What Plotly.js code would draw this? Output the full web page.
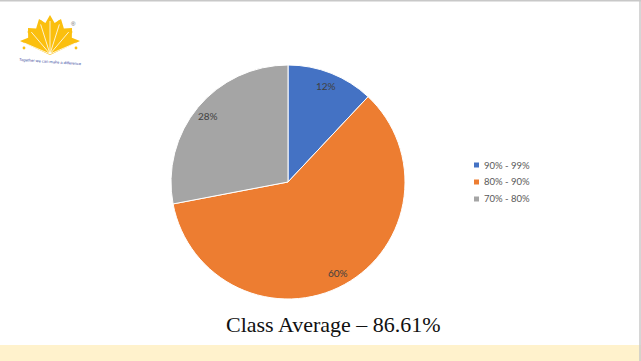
<!DOCTYPE html>
<html><head><meta charset="utf-8">
<script src="https://cdn.plot.ly/plotly-3.0.1.min.js"></script>
<style>html,body{margin:0;padding:0;background:#fff;}#chart{width:641px;height:361px;}</style>
</head><body><div id="chart"></div>
<script>
// ---- data ----
const categories = ['90% - 99%', '80% - 90%', '70% - 80%'];
const studentCounts = [3, 15, 7];
const sliceColors = ['#4472C4', '#ED7D31', '#A5A5A5'];
const chartTitle = 'Class Average \u2013 86.61%';
const logoTagline = 'Together we can make a difference';

// ---- geometry helpers (page pixels -> paper) ----
const W = 641, H = 361;
const px = x => x / W;
const py = y => 1 - y / H;
const pieCx = 288, pieCy = 182, pieR = 117;

const annotations = [];
const shapes = [];

// slice labels at "inside end" position, computed from the data
const total = studentCounts.reduce((a, b) => a + b, 0);
let cum = 0;
studentCounts.forEach((v, i) => {
  const mid = (cum + v / 2) / total * 2 * Math.PI;
  cum += v;
  const rr = pieR * 0.885;
  annotations.push({
    xref: 'paper', yref: 'paper',
    x: px(pieCx + rr * Math.sin(mid)), y: py(pieCy - rr * Math.cos(mid)),
    text: Math.round(v / total * 100) + '%', showarrow: false,
    xanchor: 'center', yanchor: 'middle',
    font: {family: 'Lato, Noto Sans, sans-serif', size: 10, color: '#404040'}
  });
});

// legend (small squares like the reference)
const legendY = [165, 182, 199];
categories.forEach((c, i) => {
  shapes.push({type: 'rect', xref: 'paper', yref: 'paper',
    x0: px(474), x1: px(479), y0: py(legendY[i] + 2.5), y1: py(legendY[i] - 2.5),
    fillcolor: sliceColors[i], line: {width: 0}});
  annotations.push({xref: 'paper', yref: 'paper', x: px(482), y: py(legendY[i]),
    text: c, showarrow: false, xanchor: 'left', yanchor: 'middle',
    font: {family: 'Lato, Noto Sans, sans-serif', size: 9.5, color: '#595959'}});
});

// title below the pie
annotations.push({xref: 'paper', yref: 'paper', x: px(333), y: py(324),
  text: chartTitle, showarrow: false, xanchor: 'center', yanchor: 'middle',
  font: {family: 'Liberation Serif, DejaVu Serif, serif', size: 22, color: '#111111'}});

// frame: top and right borders, yellow footer band
shapes.push({type: 'rect', xref: 'paper', yref: 'paper', x0: 0, x1: 1, y0: 0, y1: py(345),
  fillcolor: '#FFF2CC', line: {width: 0}, layer: 'below'});
shapes.push({type: 'line', xref: 'paper', yref: 'paper', x0: 0, x1: 1, y0: py(0.75), y1: py(0.75),
  line: {color: '#C8C8C8', width: 1.5}});
shapes.push({type: 'line', xref: 'paper', yref: 'paper', x0: px(640), x1: px(640), y0: 0, y1: 1,
  line: {color: '#C8C8C8', width: 1.5}});

// logo (decoration)
const base = [50, 55];
const tips = [[20, 41], [28, 28], [39, 19], [50, 15], [61, 19], [72, 28], [80, 41]];
let d = 'M' + px(base[0]) + ',' + py(base[1]);
tips.forEach((t, i) => {
  if (i > 0) {
    const p = tips[i - 1];
    const mx = (p[0] + t[0]) / 2, my = (p[1] + t[1]) / 2;
    const nx = base[0] + (mx - base[0]) * 0.84, ny = base[1] + (my - base[1]) * 0.84;
    d += ' L' + px(nx) + ',' + py(ny);
  }
  d += ' L' + px(t[0]) + ',' + py(t[1]);
});
d += ' Z';
shapes.push({type: 'path', xref: 'paper', yref: 'paper', path: d,
  fillcolor: '#FBBF0E', line: {width: 0}});
tips.forEach(t => {
  shapes.push({type: 'line', xref: 'paper', yref: 'paper',
    x0: px(base[0]), y0: py(base[1] - 1),
    x1: px(base[0] + (t[0] - base[0]) * 0.85), y1: py(base[1] + (t[1] - base[1]) * 0.85),
    line: {color: '#FFFFFF', width: 0.8}});
});
const dots = [[24, 48], [29, 32], [41, 22], [59, 22], [71, 32], [76, 48]];
dots.forEach(p => {
  shapes.push({type: 'circle', xref: 'paper', yref: 'paper',
    x0: px(p[0] - 1.4), x1: px(p[0] + 1.4), y0: py(p[1] + 1.4), y1: py(p[1] - 1.4),
    fillcolor: '#FBBF0E', line: {width: 0}});
});
annotations.push({xref: 'paper', yref: 'paper', x: px(50), y: py(61.5), text: logoTagline,
  showarrow: false, textangle: 4, xanchor: 'center', yanchor: 'middle',
  font: {family: 'Liberation Sans, sans-serif', size: 4, color: '#3A4A9E'}});
annotations.push({xref: 'paper', yref: 'paper', x: px(73), y: py(24), text: '\u00AE',
  showarrow: false, xanchor: 'center', yanchor: 'middle',
  font: {family: 'Liberation Sans, sans-serif', size: 6, color: '#666666'}});

const trace = {
  type: 'pie',
  labels: categories,
  values: studentCounts,
  sort: false,
  direction: 'clockwise',
  rotation: 0,
  marker: {colors: sliceColors, line: {color: '#FFFFFF', width: 1}},
  textinfo: 'none',
  hoverinfo: 'label+percent',
  showlegend: false,
  domain: {x: [px(pieCx - pieR), px(pieCx + pieR)], y: [py(pieCy + pieR), py(pieCy - pieR)]}
};

const layout = {
  width: W, height: H,
  margin: {l: 0, r: 0, t: 0, b: 0},
  paper_bgcolor: '#FFFFFF',
  showlegend: false,
  shapes: shapes,
  annotations: annotations
};

Plotly.newPlot('chart', [trace], layout, {displayModeBar: false, staticPlot: true});
</script>
</body></html>
